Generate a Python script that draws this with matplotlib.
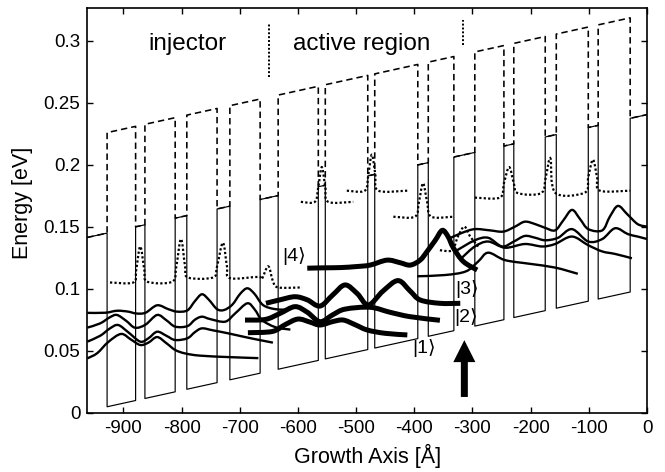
import numpy as np
import matplotlib
matplotlib.use('Agg')
import matplotlib.pyplot as plt
import matplotlib.patches as mpatches
from matplotlib.path import Path

plt.rcParams['font.family'] = ['Liberation Sans', 'DejaVu Sans']
plt.rcParams['axes.unicode_minus'] = False

# --- layer structure (growth axis in Angstrom) ---
x_min, x_max = -962, 0
# interfaces from left to right, the first layer (from x_min) is a barrier
interfaces = [-928, -879, -863, -811, -791, -739, -717, -665, -634, -565,
              -553, -480, -468, -394, -376, -332, -296, -246, -229, -175,
              -156, -101, -84, -29]
band_ref_x = -928       # well bottom reference point
band_ref_e = 0.0048     # eV
field_slope = 1.029e-4  # eV per Angstrom
barrier_height = 0.14   # eV
upper_well_offset = 0.221  # dashed band, eV above well bottom

# --- active region states (thick) ---
wf1_x = [-686, -644, -622, -600, -579, -562, -540, -522, -502, -481, -450, -412]
wf1_e = [0.0645, 0.0655, 0.071, 0.0755, 0.073, 0.0707, 0.0735, 0.0747, 0.071, 0.0667, 0.064, 0.0627]
wf2_x = [-691, -656, -631, -605, -584, -562, -540, -519, -476, -442, -407, -356]
wf2_e = [0.0747, 0.0752, 0.080, 0.0855, 0.081, 0.0734, 0.079, 0.0835, 0.085, 0.081, 0.0774, 0.0745]
wf3_x = [-655, -631, -605, -584, -562, -540, -519, -498, -479, -454, -428, -407, -390, -356, -321]
wf3_e = [0.0882, 0.091, 0.0935, 0.091, 0.086, 0.095, 0.103, 0.096, 0.0868, 0.098, 0.1065, 0.098, 0.0909, 0.0882, 0.0882]
wf4_x = [-584, -555, -527, -500, -476, -447, -425, -407, -390, -378, -364, -352, -342, -333, -316, -292]
wf4_e = [0.1165, 0.1168, 0.117, 0.1178, 0.119, 0.123, 0.121, 0.119, 0.123, 0.130, 0.139, 0.147, 0.142, 0.133, 0.122, 0.115]

# --- injector states (thin), left period ---
ia_x = [-962, -931, -911, -892, -878, -862, -842, -823, -808, -790, -777, -765, -753, -739, -727, -713, -699, -687, -675, -660, -639, -613]
ia_e = [0.0805, 0.0806, 0.0822, 0.0815, 0.0800, 0.0806, 0.0866, 0.0835, 0.0815, 0.0825, 0.090, 0.0955, 0.091, 0.0835, 0.0828, 0.087, 0.096, 0.1003, 0.096, 0.0868, 0.0835, 0.0830]
ib_x = [-962, -940, -923, -911, -895, -880, -862, -842, -826, -811, -790, -777, -765, -751, -725, -708, -687, -674, -662, -639, -613]
ib_e = [0.0686, 0.072, 0.077, 0.0788, 0.074, 0.0685, 0.071, 0.0788, 0.0745, 0.0694, 0.0698, 0.075, 0.0774, 0.0755, 0.0734, 0.080, 0.0882, 0.083, 0.0748, 0.069, 0.067]
ic_x = [-962, -940, -923, -909, -892, -871, -857, -842, -826, -811, -790, -777, -765, -747, -720, -691, -665, -643]
ic_e = [0.0573, 0.062, 0.068, 0.0707, 0.065, 0.0573, 0.060, 0.0653, 0.062, 0.0586, 0.060, 0.065, 0.068, 0.0665, 0.064, 0.061, 0.0585, 0.0565]
id_x = [-962, -945, -926, -904, -887, -871, -857, -842, -826, -811, -794, -768, -717, -668]
id_e = [0.0438, 0.048, 0.057, 0.0635, 0.059, 0.0546, 0.0565, 0.061, 0.056, 0.0506, 0.0478, 0.046, 0.0448, 0.0440]

# --- injector states (thin), right period ---
r1_x = [-342, -318, -296, -270, -247, -227, -210, -192, -175, -158, -144, -129, -115, -101, -77, -64, -50, -34, -16, 0]
r1_e = [0.140, 0.145, 0.148, 0.147, 0.146, 0.150, 0.154, 0.152, 0.149, 0.147, 0.155, 0.1635, 0.156, 0.148, 0.147, 0.158, 0.1667, 0.160, 0.152, 0.150]
r2_x = [-330, -296, -273, -249, -229, -210, -192, -175, -153, -129, -101, -77, -55, -33, -16, 0]
r2_e = [0.130, 0.139, 0.141, 0.134, 0.138, 0.1425, 0.141, 0.139, 0.141, 0.148, 0.138, 0.140, 0.1487, 0.144, 0.142, 0.140]
r3_x = [-318, -296, -273, -244, -210, -180, -158, -129, -101, -77, -55, -26]
r3_e = [0.125, 0.134, 0.138, 0.133, 0.136, 0.134, 0.136, 0.142, 0.135, 0.130, 0.128, 0.1245]
r4_x = [-395, -347, -311, -290, -273, -244, -201, -158, -119]
r4_e = [0.110, 0.111, 0.114, 0.122, 0.129, 0.123, 0.120, 0.117, 0.112]

# --- higher states (dotted) ---
d1_x = [-923, -883, -878, -871, -864, -859, -816, -809, -801, -794, -789, -746, -739, -729, -722, -717, -668, -662, -651, -643, -634, -593]
d1_e = [0.105, 0.105, 0.115, 0.134, 0.115, 0.1056, 0.1056, 0.118, 0.14, 0.118, 0.109, 0.109, 0.118, 0.137, 0.118, 0.1085, 0.1095, 0.108, 0.118, 0.106, 0.101, 0.101]
d2_x = [-595, -571, -565, -559, -553, -548, -505]
d2_e = [0.170, 0.170, 0.182, 0.198, 0.182, 0.170, 0.170]
d3_x = [-516, -485, -479, -473, -467, -462, -412]
d3_e = [0.179, 0.179, 0.192, 0.208, 0.192, 0.179, 0.179]
d4_x = [-436, -399, -392, -385, -378, -371, -333]
d4_e = [0.158, 0.158, 0.170, 0.185, 0.170, 0.158, 0.158]
d5_x = [-296, -253, -246, -237, -229, -222, -182, -174, -166, -158, -107, -101, -93, -86, -81, -29]
d5_e = [0.1734, 0.1734, 0.185, 0.198, 0.185, 0.177, 0.177, 0.19, 0.205, 0.1774, 0.1774, 0.19, 0.204, 0.19, 0.179, 0.179]
d6_x = [-356, -335, -325, -314, -304, -290]
d6_e = [0.131, 0.131, 0.142, 0.150, 0.142, 0.134]

# region separators and labels
sep_x = [-649, -316]
sep_lo = [0.271, 0.2965]
sep_hi = [0.314, 0.3167]
region_labels = ['injector', 'active region']
region_label_x = [-790, -491]
region_label_e = 0.292
ket_labels = ['|1\u27e9', '|2\u27e9', '|3\u27e9', '|4\u27e9']
ket_x = [-383, -311, -309, -606]
ket_e = [0.052, 0.0775, 0.100, 0.126]

arrow_x = -314
arrow_base = 0.0127
arrow_tip = 0.0585
arrow_shaft = 12
arrow_head_w = 38
arrow_head_len = 0.0177


def band_profile(well_offset):
    """
    Piecewise linear band edge, tilted by the applied field.
    """
    edges = [x_min] + interfaces + [x_max]
    xs, es = [], []
    for i in range(len(edges) - 1):
        off = barrier_height if i % 2 == 0 else well_offset
        for x in (edges[i], edges[i + 1]):
            xs.append(x)
            es.append(band_ref_e + field_slope * (x - band_ref_x) + off)
    return np.array(xs), np.array(es)


def smooth_curve(ax, xs, es, **kw):
    """
    Draw a smooth (Catmull-Rom as Bezier) curve through the read points.
    """
    p = np.column_stack([xs, es]).astype(float)
    n = len(p)
    verts = [p[0]]
    codes = [Path.MOVETO]
    for i in range(n - 1):
        p0 = p[i - 1] if i > 0 else p[i]
        p3 = p[i + 2] if i + 2 < n else p[i + 1]
        verts += [p[i] + (p[i + 1] - p0) / 6, p[i + 1] - (p3 - p[i]) / 6, p[i + 1]]
        codes += [Path.CURVE4] * 3
    ax.add_patch(mpatches.PathPatch(Path(verts, codes), fill=False, **kw))


fig = plt.figure(figsize=(6.65, 4.72), dpi=100)
ax = fig.add_axes([0.1313, 0.1256, 0.8417, 0.8568])

# band edges
bx, be = band_profile(0.0)
ax.plot(bx, be, color='black', lw=0.85)
ux, ue = band_profile(upper_well_offset)
ax.plot(ux, ue, color='black', lw=1.15, ls=(0, (4, 2.5)))

# dotted upper states
for xs, es in [(d1_x, d1_e), (d2_x, d2_e), (d3_x, d3_e), (d4_x, d4_e), (d5_x, d5_e), (d6_x, d6_e)]:
    smooth_curve(ax, xs, es, edgecolor='black', lw=1.6, ls=(0, (1, 1)))

# injector states
for xs, es in [(ia_x, ia_e), (ib_x, ib_e), (ic_x, ic_e), (id_x, id_e),
               (r1_x, r1_e), (r2_x, r2_e), (r3_x, r3_e), (r4_x, r4_e)]:
    smooth_curve(ax, xs, es, edgecolor='black', lw=1.7, joinstyle='round')

# active region states
for xs, es in [(wf1_x, wf1_e), (wf2_x, wf2_e), (wf3_x, wf3_e), (wf4_x, wf4_e)]:
    smooth_curve(ax, xs, es, edgecolor='black', lw=3.6, joinstyle='round', capstyle='butt')

for x, lo, hi in zip(sep_x, sep_lo, sep_hi):
    ax.plot([x, x], [lo, hi], color='black', lw=1.4, ls=(0, (1, 1)))

for txt, x in zip(region_labels, region_label_x):
    ax.text(x, region_label_e, txt, ha='center', va='baseline', fontsize=17.5)

for txt, x, e in zip(ket_labels, ket_x, ket_e):
    ax.text(x, e, txt, ha='center', va='center', fontsize=14)

ax.add_patch(mpatches.FancyArrow(arrow_x, arrow_base, 0, arrow_tip - arrow_base,
                                 width=arrow_shaft, head_width=arrow_head_w,
                                 head_length=arrow_head_len, length_includes_head=True,
                                 color='black', lw=0))

ax.set_xlim(x_min, x_max)
ax.set_ylim(0, 0.326)
ax.set_xticks(list(range(-900, 1, 100)))
yticks = [0, 0.05, 0.1, 0.15, 0.2, 0.25, 0.3]
ax.set_yticks(yticks)
ax.set_yticklabels(['0', '0.05', '0.1', '0.15', '0.2', '0.25', '0.3'])
ax.tick_params(direction='in', length=4, width=1.0, top=True, right=True, labelsize=13.5, pad=5)
for sp in ax.spines.values():
    sp.set_linewidth(1.2)

ax.set_xlabel('Growth Axis [\u00c5]', fontsize=15.5, va='center')
ax.set_ylabel('Energy [eV]', fontsize=15.5, va='center')
ax.xaxis.set_label_coords(0.5, -0.107)
ax.yaxis.set_label_coords(-0.115, 0.52)

fig.savefig('out.png', dpi=100)
